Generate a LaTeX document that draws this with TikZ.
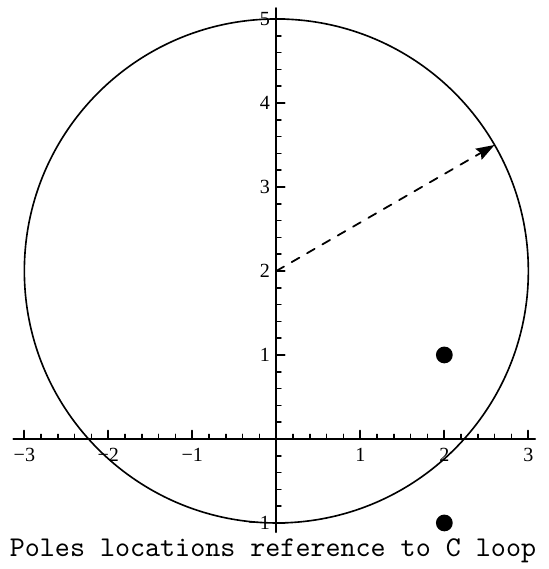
\documentclass[tikz,border=0pt]{standalone}
\usepackage{fontspec}
\setmainfont{Liberation Serif}
\usetikzlibrary{arrows.meta}

\begin{document}
\begin{tikzpicture}[x=1cm,y=1cm,>={Stealth[length=2.2mm,width=1.5mm,inset=0.3mm]},line cap=round,line join=round]
\useasboundingbox (-3.29,-1.548) rectangle (3.244,5.226);
\tikzset{ticklbl/.style={font=\fontsize{6.8}{7}\selectfont,inner sep=1pt}}
\coordinate (O) at (0,0);
\coordinate (c) at (0,2);
\coordinate (r) at (2.598,3.5);
\coordinate (p1) at (2,1);
\coordinate (p2) at (2,-1);
% axes
\draw[line width=0.7pt] (-3.13,0) -- (3.08,0);
\draw[line width=0.7pt] (0,-1.11) -- (0,5.13);
\foreach \i in {-15,...,15} \draw[line width=0.5pt] (\i/5,0) -- (\i/5,0.055);
\foreach \i in {-5,...,25} \draw[line width=0.5pt] (0,\i/5) -- (0.055,\i/5);
\foreach \i in {-3,...,3} \draw[line width=0.6pt] (\i,0) -- (\i,0.1);
\foreach \i in {-1,...,5} \draw[line width=0.6pt] (0,\i) -- (0.1,\i);
\foreach \i/\t in {-3/−3,-2/−2,-1/−1,1/1,2/2,3/3}
  \node[ticklbl,below=2pt] at (\i,0) {\t};
\foreach \i/\t in {-1/−1,1/1,2/2,3/3,4/4,5/5}
  \node[ticklbl,left=1pt] at (0,\i) {\t};
% contour
\draw[line width=0.55pt] (c) circle (3);
\draw[->,dashed,line width=0.6pt] (c) -- (r);
\fill (p1) circle (0.1);
\fill (p2) circle (0.1);
\node[font=\ttfamily\fontsize{9.7}{11}\selectfont] (cap) at (-0.04,-1.333) {Poles locations reference to C loop};
\end{tikzpicture}
\end{document}
